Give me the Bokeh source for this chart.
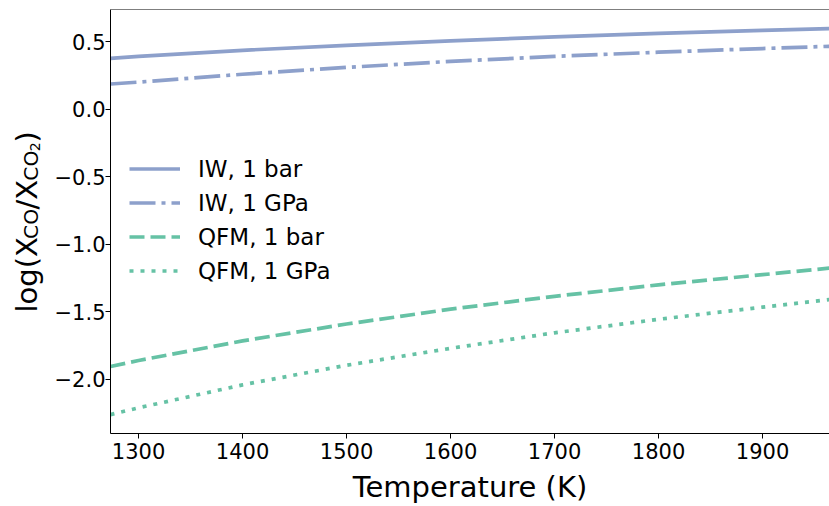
from bokeh.plotting import figure
from bokeh.models import (Range1d, FixedTicker, CustomJSTickFormatter, Span, ColumnDataSource)
from bokeh.core.properties import value, field
from bokeh.layouts import row
from bokeh.embed import file_html
from bokeh.resources import INLINE
import math

# ---- data ----
temperature = [1273, 1300, 1400, 1500, 1600, 1700, 1800, 1900, 1973]
iw_1bar = [0.376, 0.390, 0.435, 0.472, 0.505, 0.534, 0.560, 0.582, 0.598]
iw_1gpa = [0.186, 0.200, 0.258, 0.309, 0.353, 0.390, 0.421, 0.448, 0.467]
qfm_1bar = [-1.904, -1.860, -1.715, -1.590, -1.480, -1.385, -1.300, -1.225, -1.170]
qfm_1gpa = [-2.260, -2.210, -2.040, -1.895, -1.770, -1.655, -1.555, -1.465, -1.402]

series_labels = ["IW, 1 bar", "IW, 1 GPa", "QFM, 1 bar", "QFM, 1 GPa"]
x_ticks = [1300, 1400, 1500, 1600, 1700, 1800, 1900]
y_ticks = [-2.0, -1.5, -1.0, -0.5, 0.0, 0.5]
x_title = "Temperature (K)"
y_title_parts = ["log(X", "CO", "/X", "CO", "2", ")"]

BLUE = "#8da0cb"
GREEN = "#66c2a5"
FONT = "DejaVu Sans"

X0, X1 = 1273, 1964.4
Y0, Y1 = -2.40, 0.737

W, H = 829, 506
TOP, BOTTOM = 9, 73
AXIS_W = 62               # room the y axis (ticks + labels) takes
LABEL_W = 110 - AXIS_W    # frame starts at x = 110

# ---------- y-axis title panel (pixel-like coordinates) ----------
lab = figure(width=LABEL_W, height=H, output_backend="svg", toolbar_location=None,
             x_range=Range1d(0, LABEL_W), y_range=Range1d(BOTTOM, H - TOP),
             x_axis_type=None, y_axis_type=None,
             min_border_left=0, min_border_right=0, min_border_top=TOP,
             min_border_bottom=BOTTOM)
lab.outline_line_color = None
lab.background_fill_color = "white"
lab.border_fill_color = "white"
lab.xgrid.grid_line_color = None
lab.ygrid.grid_line_color = None

F, SUB, SUBSUB, K = 29.0, 20.3, 14.2, 0.975
sizes = [F, SUB, F, SUB, SUBSUB, F]
shifts = [0, 4, 0, 4, 8, 0]
em_widths = [2.600, 1.485, 1.022, 1.485, 0.636, 0.390]
base_x = 26
ys, xs = [], []
cur = H - 312
for s, sh, ew in zip(sizes, shifts, em_widths):
    xs.append(base_x + sh)
    ys.append(cur)
    cur += K * ew * s
src = ColumnDataSource(dict(x=xs, y=ys, text=y_title_parts,
                            size=[f"{s}px" for s in sizes]))
lab.text(x="x", y="y", text="text", source=src, angle=math.pi / 2,
         text_align="left", text_baseline="alphabetic", text_font=value(FONT),
         text_font_size=field("size"), text_color="black")

# ---------- main plot ----------
p = figure(width=W - LABEL_W, height=H, output_backend="svg", toolbar_location=None,
           x_range=Range1d(X0, X1), y_range=Range1d(Y0, Y1),
           min_border_left=AXIS_W, min_border_right=0, min_border_top=TOP,
           min_border_bottom=BOTTOM)
p.background_fill_color = "white"
p.border_fill_color = "white"
p.outline_line_color = None
p.xgrid.grid_line_color = None
p.ygrid.grid_line_color = None

LW = 3.7
p.line(temperature, iw_1bar, line_color=BLUE, line_width=LW, legend_label=series_labels[0])
p.line(temperature, iw_1gpa, line_color=BLUE, line_width=LW, line_dash="26 6 4 6",
       legend_label=series_labels[1])
p.line(temperature, qfm_1bar, line_color=GREEN, line_width=LW, line_dash="15 6",
       legend_label=series_labels[2])
p.line(temperature, qfm_1gpa, line_color=GREEN, line_width=LW, line_dash="4 7",
       legend_label=series_labels[3])

# top spine
p.add_layout(Span(location=Y1, dimension="width", line_color="black", line_width=1))

for ax in (p.xaxis[0], p.yaxis[0]):
    ax.axis_line_color = "black"
    ax.axis_line_width = 1
    ax.major_tick_line_color = "black"
    ax.major_tick_out = 5
    ax.major_tick_in = 0
    ax.minor_tick_line_color = None
    ax.major_label_text_font = FONT
    ax.major_label_text_font_size = "21px"
    ax.major_label_text_color = "black"
p.xaxis.major_label_standoff = 4
p.yaxis.major_label_standoff = 0

p.xaxis.ticker = FixedTicker(ticks=x_ticks)
p.yaxis.ticker = FixedTicker(ticks=y_ticks)
p.yaxis.formatter = CustomJSTickFormatter(code="return tick.toFixed(1).replace('-', '\\u2212');")
p.xaxis.axis_label = x_title
p.xaxis.axis_label_text_font = FONT
p.xaxis.axis_label_text_font_size = "29px"
p.xaxis.axis_label_text_font_style = "normal"
p.xaxis.axis_label_text_color = "black"
p.xaxis.axis_label_standoff = 8

lg = p.legend[0]
lg.location = (19, 149)
lg.padding = 0
lg.margin = 0
lg.spacing = 7
lg.glyph_width = 51
lg.glyph_height = 27
lg.label_height = 27
lg.label_standoff = 18
lg.border_line_color = None
lg.background_fill_alpha = 0
lg.label_text_font = FONT
lg.label_text_font_size = "23px"
lg.label_text_color = "black"

layout = row(lab, p, spacing=0)
open("out.html", "w").write(file_html(layout, INLINE))
